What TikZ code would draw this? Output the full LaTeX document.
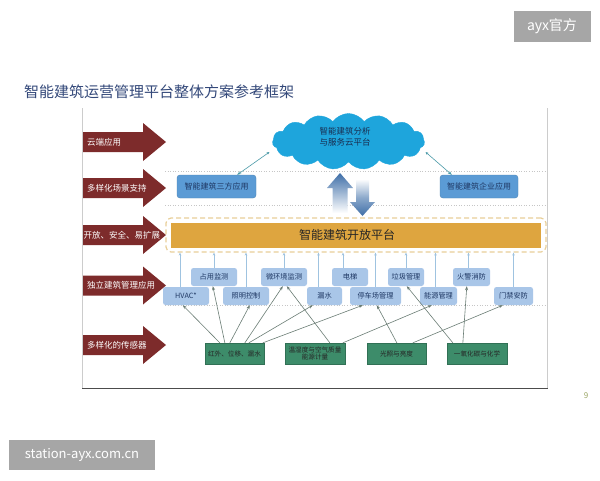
\documentclass[tikz,border=0pt]{standalone}
\usepackage{fontspec}
\setmainfont{Noto Sans CJK SC}
\usetikzlibrary{shapes.symbols,arrows.meta,calc}
\definecolor{darkred}{HTML}{7D2B2B}
\definecolor{cloudc}{HTML}{1EA5DC}
\definecolor{bluebox}{HTML}{5B9BD5}
\definecolor{navy}{HTML}{1F3864}
\definecolor{appc}{HTML}{A9C6E8}
\definecolor{goldc}{HTML}{DEA53F}
\definecolor{goldbd}{HTML}{E8CF99}
\definecolor{greenc}{HTML}{3D8C6A}
\definecolor{teal}{HTML}{4A9AA8}
\definecolor{lblue}{HTML}{9FC3E0}
\definecolor{sgray}{HTML}{6B7D75}
\definecolor{steel}{HTML}{3F6FA8}
\definecolor{titlec}{HTML}{34497A}
\definecolor{wmgray}{HTML}{A6A6A6}
\definecolor{olive}{HTML}{9AA564}
\newcommand\redarrow[4]{%
  \fill[darkred] (83,#2-10) -- (143,#2-10) -- (143,#2-19) -- (166,#2) -- (143,#2+19) -- (143,#2+10) -- (83,#2+10) -- cycle;
  \node[arrowtxt, anchor=west] (#1) at (#3,#2) {#4};}
\newcommand\mybox[7]{%
  \node[#1, minimum width={#5-#3}, minimum height={#6-#4}] (#2) at ({(#3+#5)/2},{(#4+#6)/2}) {#7};}
\begin{document}
\begin{tikzpicture}[x=1pt,y=-1pt,
  arrowtxt/.style={text=white, font=\fontsize{8.5}{10}\selectfont, inner sep=0},
  topbox/.style={fill=bluebox, draw=bluebox!85!black, line width=0.4pt, rounded corners=3pt, inner sep=0, text=navy, font=\fontsize{8}{9.5}\selectfont},
  appbox/.style={fill=appc, rounded corners=2.5pt, inner sep=0, text=navy, font=\fontsize{7.2}{8.5}\selectfont},
  sensbox/.style={fill=greenc, draw=greenc!80!black, line width=0.3pt, inner sep=0, text=black!85, font=\fontsize{6.6}{7.6}\selectfont, align=center},
  uparr/.style={draw=lblue, line width=0.6pt, -{Stealth[length=3pt,width=2.5pt]}},
  sarr/.style={draw=sgray, line width=0.6pt, -{Stealth[length=4pt,width=3pt]}},
  carr/.style={draw=teal, line width=0.6pt, {Stealth[length=3pt,width=2.5pt]}-{Stealth[length=4pt,width=3pt]}},
  dotline/.style={draw=gray!45, line width=0.6pt, dotted}
]
\useasboundingbox (0,0) rectangle (600,480);
\fill[white] (0,0) rectangle (600,480);

% watermarks
\node[fill=wmgray, text=white, minimum width=77pt, minimum height=31pt, inner sep=0, font=\fontsize{14}{16}\selectfont] (wm1) at (552,26) {ayx官方};
\node[fill=wmgray, text=white, minimum width=146pt, minimum height=30pt, inner sep=0, font=\fontsize{13}{15}\selectfont] (wm2) at (82,455) {station-ayx.com.cn};

% title
\node[anchor=west, text=titlec, inner sep=0, font=\fontsize{15}{17}\selectfont] (title) at (24,92) {智能建筑运营管理平台整体方案参考框架};

% page number
\node[text=olive, inner sep=0, font=\fontsize{8}{9}\selectfont] (pnum) at (586,396) {9};

% frame
\draw[gray!40, line width=0.8pt] (82,108) -- (82,388);
\draw[gray!40, line width=0.8pt] (547,108) -- (547,388);
\draw[black!70, line width=1pt] (82,388) -- (547.5,388);

% dotted separators
\draw[dotline] (165,171) -- (545,171);
\draw[dotline] (165,205) -- (545,205);
\draw[dotline] (165,305.5) -- (545,305.5);

% red arrows
\redarrow{r1}{142}{87}{云端应用}
\redarrow{r2}{188}{87}{多样化场景支持}
\redarrow{r3}{235}{83.5}{开放、安全、易扩展}
\redarrow{r4}{285.5}{87}{独立建筑管理应用}
\redarrow{r5}{345}{87}{多样化的传感器}

% cloud
\node[cloud, cloud puffs=15, cloud puff arc=110, aspect=2.7, fill=cloudc, draw=cloudc, minimum width=152pt, minimum height=56pt, inner sep=0] (cloud) at (348.5,141.5) {};
\node[text=navy!80!black, align=center, inner sep=0, font=\fontsize{8.5}{10.5}\selectfont] (cloudtxt) at (345,137) {智能建筑分析\\与服务云平台};

% top boxes
\mybox{topbox}{third}{177}{175}{256}{198}{智能建筑三方应用}
\mybox{topbox}{ent}{440}{175}{518}{198}{智能建筑企业应用}
\draw[carr] ($(cloud.center)+(-79,10.5)$) coordinate (c1) -- ([xshift=-19pt]third.north east);
\draw[carr] ($(cloud.center)+(77,10.5)$) coordinate (c2) -- ([xshift=12pt]ent.north west);

% big up/down arrows
\shade[top color=steel, bottom color=white] (340,173) -- (353,188) -- (347.5,188) -- (347.5,213) -- (332.5,213) -- (332.5,188) -- (327,188) -- cycle;
\shade[top color=white, bottom color=steel, middle color=steel!60] (356,179) -- (369,179) -- (369,202) -- (375,202) -- (362.5,216) -- (350,202) -- (356,202) -- cycle;

% platform
\mybox{draw=goldbd, dashed, dash pattern=on 5pt off 3pt, line width=1.2pt, rounded corners=5pt, inner sep=0}{pb}{166}{218}{546}{252}{}
\mybox{fill=goldc, inner sep=0}{plat}{171}{223}{541}{247.5}{}
\node[text=black!85, inner sep=0, font=\fontsize{12}{14}\selectfont] (plattxt) at (347,235) {智能建筑开放平台};

% apps
\mybox{appbox}{occ}{191}{268}{237}{286}{占用监测}
\mybox{appbox}{env}{261}{268}{307}{286}{微环境监测}
\mybox{appbox}{elev}{332}{268}{368}{286}{电梯}
\mybox{appbox}{waste}{388}{268}{424}{286}{垃圾管理}
\mybox{appbox}{fire}{453}{268}{490}{286}{火警消防}
\mybox{appbox}{hvac}{163}{287}{209}{305}{HVAC*}
\mybox{appbox}{light}{223}{287}{269}{305}{照明控制}
\mybox{appbox}{leak}{307}{287}{342}{305}{漏水}
\mybox{appbox}{park}{350}{287}{401}{305}{停车场管理}
\mybox{appbox}{energy}{420}{287}{457}{305}{能源管理}
\mybox{appbox}{door}{494}{287}{533}{305}{门禁安防}

% up arrows to platform
\draw[uparr] ([xshift=-6pt]hvac.north) -- ([xshift=-6pt]hvac.north |- pb.south);
\draw[uparr] (occ.north) -- (occ.north |- pb.south);
\draw[uparr] (light.north) -- (light.north |- pb.south);
\draw[uparr] (env.north) -- (env.north |- pb.south);
\draw[uparr] ([xshift=-6pt]leak.north) -- ([xshift=-6pt]leak.north |- pb.south);
\draw[uparr] ([xshift=-7pt]elev.north) -- ([xshift=-7pt]elev.north |- pb.south);
\draw[uparr] (park.north) -- (park.north |- pb.south);
\draw[uparr] (waste.north) -- (waste.north |- pb.south);
\draw[uparr] ([xshift=-3pt]energy.north) -- ([xshift=-3pt]energy.north |- pb.south);
\draw[uparr] ([xshift=-3pt]fire.north) -- ([xshift=-3pt]fire.north |- pb.south);
\draw[uparr] (door.north) -- (door.north |- pb.south);

% sensors
\mybox{sensbox}{s1}{205}{343}{264}{364}{红外、位移、漏水}
\mybox{sensbox}{s2}{285}{343}{345}{364}{温湿度与空气质量\\能源计量}
\mybox{sensbox}{s3}{367}{343}{426}{364}{光照与亮度}
\mybox{sensbox}{s4}{447}{343}{507}{364}{一氧化碳与化学}

% sensor -> app arrows
\draw[sarr] ([xshift=15pt]s1.north west) -- ([xshift=20pt]hvac.south west);
\draw[sarr] ([xshift=20pt]s1.north west) -- ([xshift=22pt]occ.south west);
\draw[sarr] ([xshift=25pt]s1.north west) -- ([xshift=27pt]light.south west);
\draw[sarr] ([xshift=40pt]s1.north west) -- ([xshift=22pt]env.south west);
\draw[sarr] ([xshift=44pt]s1.north west) -- ([xshift=6pt]leak.south west);
\draw[sarr] ([xshift=58pt]s1.north west) -- ([xshift=13pt]park.south west);
\draw[sarr] ([xshift=45pt]s2.north west) -- ([xshift=26pt]env.south west);
\draw[sarr] ([xshift=58pt]s2.north west) -- ([xshift=12pt]energy.south west);
\draw[sarr] ([xshift=30pt]s3.north west) -- ([xshift=27pt]park.south west);
\draw[sarr] ([xshift=46pt]s3.north west) -- ([xshift=9pt]door.south west);
\draw[sarr] ([xshift=6pt]s4.north west) -- ([xshift=19pt]waste.south west);
\draw[sarr] ([xshift=16pt]s4.north west) -- ([xshift=14pt]fire.south west);
\end{tikzpicture}
\end{document}
